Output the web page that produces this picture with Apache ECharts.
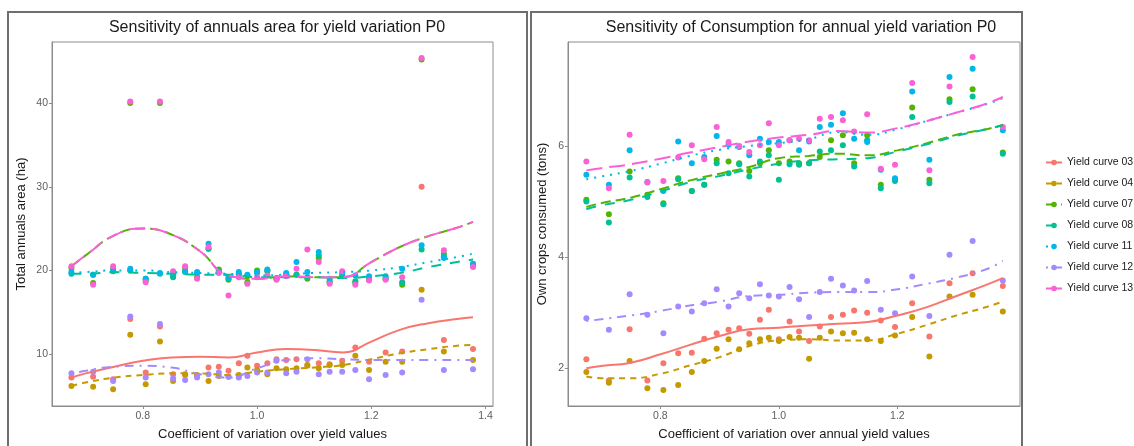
<!DOCTYPE html>
<html>
<head>
<meta charset="utf-8">
<script src="https://cdn.jsdelivr.net/npm/echarts@6/dist/echarts.min.js"></script>
<style>
html,body{margin:0;padding:0;background:#fff;}
#chart{width:1134px;height:446px;}
</style>
</head>
<body>
<div id="chart"></div>
<script>
// ---------- data ----------
const names = ['Yield curve 03','Yield curve 04','Yield curve 07','Yield curve 08','Yield curve 11','Yield curve 12','Yield curve 13'];
const colors = ['#F8766D','#C49A00','#53B400','#00C094','#00B6EB','#A58AFF','#FB61D7'];

// coefficient of variation (x positions of the simulations)
const cvX = [0.675,0.713,0.748,0.778,0.805,0.830,0.853,0.874,0.895,0.915,0.933,0.950,0.968,0.983,1.000,1.018,1.034,1.051,1.069,1.088,1.108,1.127,1.149,1.172,1.196,1.225,1.254,1.288,1.327,1.378];
// x positions at which the smoothed curves were read
const fitX = [0.675,0.70,0.75,0.80,0.85,0.90,0.95,1.00,1.05,1.10,1.15,1.20,1.25,1.30,1.35,1.378];

// left panel: total annuals area (ha)
const area03 = [7.2,7.3,7.0,14.2,7.8,13.3,7.6,7.5,7.4,8.4,8.5,8.0,8.9,9.8,8.6,8.9,9.4,9.3,9.4,8.6,8.9,8.8,9.2,10.8,9.1,10.2,10.3,30.0,11.7,10.6];
const area04 = [6.2,6.1,5.8,12.3,6.4,11.5,6.8,7.6,7.5,6.8,7.4,7.3,7.5,8.4,8.1,7.6,8.3,8.2,8.3,8.7,8.3,8.7,8.7,9.8,8.1,9.1,9.1,17.7,10.3,9.3];
const area07 = [20.3,18.5,20.2,40.0,18.8,40.0,19.3,20.3,19.2,22.6,20.1,18.9,19.5,18.6,20.0,19.9,19.1,19.5,19.5,19.0,21.5,18.6,19.3,18.5,19.0,19.0,18.3,45.2,22.0,20.6];
const area08 = [19.6,19.5,19.9,20.0,19.0,19.6,19.2,19.8,19.7,22.6,19.9,19.0,19.6,19.4,19.7,20.0,19.0,19.5,19.5,19.2,21.8,18.7,19.4,18.7,18.9,19.0,18.6,22.5,21.7,20.7];
const area11 = [19.8,19.5,20.0,20.2,19.0,19.7,19.6,19.9,19.8,23.2,19.8,19.2,19.8,19.5,19.8,20.1,19.0,19.7,21.0,19.8,22.2,19.0,19.7,19.4,19.3,19.3,20.2,23.0,21.5,20.8];
const area12 = [7.7,7.9,6.8,14.5,7.2,13.6,7.1,6.9,7.2,7.6,7.8,7.3,7.2,7.4,7.8,7.8,9.2,7.7,7.9,9.4,7.6,7.9,7.9,8.1,7.0,7.5,7.8,16.5,8.1,8.2];
const area13 = [20.5,18.3,20.5,40.2,18.6,40.2,19.9,20.5,19.0,22.8,19.7,17.0,19.2,18.4,19.2,19.4,18.9,19.3,20.2,22.5,21.0,18.4,19.9,18.3,18.8,18.9,19.2,45.4,22.4,20.4];

const areaFit03 = [7.2,7.7,8.5,9.2,9.6,9.7,9.6,10.2,10.6,10.5,10.2,11.5,12.9,13.7,14.2,14.4];
const areaFit04 = [6.2,6.6,7.2,7.5,7.7,7.7,7.5,7.9,8.2,8.4,8.7,9.4,10.1,10.6,11.0,11.1];
const areaFit07 = [20.5,21.8,24.2,25.0,24.3,22.3,19.4,19.0,19.3,19.2,19.2,21.0,22.8,24.1,25.1,25.8];
const areaFit08 = [19.6,19.6,19.8,19.7,19.6,19.5,19.5,19.2,19.2,19.2,19.1,19.3,19.7,20.4,21.0,21.3];
const areaFit11 = [19.7,19.8,20.0,20.0,19.8,19.7,19.6,19.4,19.5,19.7,19.8,20.0,20.4,21.0,21.6,22.0];
const areaFit12 = [7.6,8.0,8.5,8.6,8.4,7.6,7.2,8.3,9.3,9.5,9.4,9.3,9.3,9.3,9.3,9.3];
const areaFit13 = [20.5,21.8,24.2,25.0,24.3,22.3,19.4,19.0,19.3,19.2,19.2,21.0,22.8,24.1,25.1,25.8];

// right panel: own crops consumed (tons)
const cons03 = [2.16,1.78,2.70,1.78,2.09,2.27,2.28,2.53,2.63,2.69,2.72,2.62,2.87,3.05,2.52,2.84,2.66,2.49,2.75,2.92,2.96,3.04,3.00,2.86,2.74,3.17,2.57,3.53,3.71,3.48];
const cons04 = [1.93,1.74,2.13,1.64,1.61,1.70,1.93,2.13,2.35,2.52,2.34,2.45,2.52,2.55,2.49,2.56,2.55,2.17,2.55,2.66,2.63,2.64,2.52,2.49,2.59,2.92,2.21,3.29,3.32,3.02];
const cons07 = [5.03,4.77,5.54,5.12,4.97,5.42,5.19,5.30,5.75,5.72,5.69,5.55,5.69,5.92,5.69,5.72,5.69,5.69,5.80,6.10,6.19,5.69,6.19,5.30,5.40,6.69,5.39,6.84,7.02,5.88];
const cons08 = [5.00,4.62,5.43,5.08,4.95,5.40,5.19,5.30,5.69,5.51,5.67,5.45,5.72,5.83,5.39,5.67,5.66,5.69,5.90,5.92,6.01,5.63,6.10,5.24,5.37,6.52,5.33,6.79,6.89,5.86];
const cons11 = [5.48,5.30,5.92,5.35,5.19,6.08,5.69,5.80,6.18,6.02,5.98,5.83,6.13,6.07,6.07,6.10,5.92,6.08,6.34,6.38,6.59,6.13,6.07,5.57,5.42,6.98,5.75,7.24,7.39,6.28];
const cons12 = [2.90,2.69,3.33,2.96,2.63,3.11,3.02,3.17,3.42,3.11,3.35,3.26,3.51,3.31,3.29,3.46,3.24,2.92,3.37,3.61,3.49,3.40,3.57,3.05,2.99,3.65,2.94,4.04,4.29,3.58];
const cons13 = [5.72,5.24,6.20,5.34,5.37,5.79,6.01,5.76,6.34,6.07,6.00,5.89,6.01,6.41,6.01,6.10,6.13,6.10,6.49,6.52,6.46,6.26,6.57,5.59,5.66,7.13,5.56,7.07,7.60,6.34];

const consFit03 = [2.0,2.04,2.1,2.25,2.42,2.58,2.7,2.73,2.77,2.8,2.83,2.95,3.1,3.3,3.5,3.62];
const consFit04 = [1.85,1.82,1.82,1.9,2.05,2.2,2.4,2.5,2.52,2.5,2.5,2.62,2.78,2.95,3.1,3.2];
const consFit07 = [4.9,4.97,5.07,5.22,5.38,5.5,5.62,5.78,5.82,5.86,5.83,5.92,6.05,6.2,6.3,6.38];
const consFit08 = [4.86,4.93,5.03,5.18,5.35,5.46,5.58,5.68,5.74,5.76,5.78,5.9,6.03,6.18,6.3,6.37];
const consFit11 = [5.4,5.45,5.55,5.68,5.82,5.93,6.0,6.05,6.12,6.25,6.2,6.3,6.45,6.6,6.75,6.86];
const consFit12 = [2.85,2.88,2.95,3.03,3.13,3.2,3.3,3.32,3.36,3.37,3.37,3.42,3.52,3.63,3.78,3.93];
const consFit13 = [5.56,5.6,5.67,5.77,5.88,5.98,6.08,6.15,6.2,6.27,6.24,6.32,6.45,6.6,6.76,6.88];

// tick labels
const xTicks = [0.8,1.0,1.2,1.4];
const xTicksRight = [0.8,1.0,1.2];
const yTicksArea = [10,20,30,40];
const yTicksCons = [2,4,6];

// ---------- styling ----------
const dashes = ['solid',[6,5],[10,5],[10,9],[2,6],[2,6,9,6],[16,7]];
const areaPts = [area03,area04,area07,area08,area11,area12,area13];
const areaFits = [areaFit03,areaFit04,areaFit07,areaFit08,areaFit11,areaFit12,areaFit13];
const consPts = [cons03,cons04,cons07,cons08,cons11,cons12,cons13];
const consFits = [consFit03,consFit04,consFit07,consFit08,consFit11,consFit12,consFit13];

const FONT = '"Liberation Sans", Arial, sans-serif';
const axisGray = '#8c8c8c';

function pairs(xs, ys){ return xs.map((x,i)=>[x, ys[i]]); }

const series = [];
function addPanel(idx, pts, fits){
  pts.forEach((ys,i)=>{
    series.push({type:'scatter', name:'pts '+names[i]+' '+idx, xAxisIndex:idx, yAxisIndex:idx,
      data:pairs(cvX, ys), symbolSize:6, itemStyle:{color:colors[i], opacity:1}, silent:true, z:2});
  });
  fits.forEach((ys,i)=>{
    series.push({type:'line', name:names[i], xAxisIndex:idx, yAxisIndex:idx,
      data:pairs(fitX, ys), smooth:0.5, symbol:'circle', symbolSize:6, showSymbol:false,
      lineStyle:{color:colors[i], width:2, type:dashes[i]}, itemStyle:{color:colors[i]}, silent:true, z:3});
  });
}
addPanel(0, areaPts, areaFits);
addPanel(1, consPts, consFits);

function xAxisCfg(idx, name, min, max, ticks){
  return {type:'value', gridIndex:idx, min:min, max:max, name:name, nameLocation:'middle', nameGap:22,
    nameTextStyle:{fontFamily:FONT, fontSize:13, color:'#1a1a1a'},
    axisLine:{show:true, onZero:false, lineStyle:{color:axisGray, width:1}},
    axisTick:{show:true, length:3, customValues:ticks, lineStyle:{color:axisGray}},
    axisLabel:{customValues:ticks, margin:5, fontFamily:FONT, fontSize:10.5, color:'#5e5e5e',
      formatter:v=>v.toFixed(1)},
    splitLine:{show:false}};
}
function yAxisCfg(idx, name, min, max, ticks, gap){
  return {type:'value', gridIndex:idx, min:min, max:max, name:name, nameLocation:'middle', nameGap:gap,
    nameTextStyle:{fontFamily:FONT, fontSize:13, color:'#1a1a1a'},
    axisLine:{show:true, onZero:false, lineStyle:{color:axisGray, width:1}},
    axisTick:{show:true, length:3, customValues:ticks, lineStyle:{color:axisGray}},
    axisLabel:{customValues:ticks, margin:4, fontFamily:FONT, fontSize:10.5, color:'#5e5e5e'},
    splitLine:{show:false}};
}

const option = {
  animation:false,
  backgroundColor:'#ffffff',
  title:[
    {text:'Sensitivity of annuals area for yield variation P0', left:272, top:15, textAlign:'center',
     textStyle:{fontFamily:FONT, fontSize:16, fontWeight:'normal', color:'#1a1a1a'}},
    {text:'Sensitivity of Consumption for annual yield variation P0', left:796, top:15, textAlign:'center',
     textStyle:{fontFamily:FONT, fontSize:16, fontWeight:'normal', color:'#1a1a1a'}}
  ],
  grid:[
    {left:52, top:42, width:441, height:366, show:true, borderColor:axisGray, borderWidth:1, backgroundColor:'transparent'},
    {left:568, top:42, width:452, height:368, show:true, borderColor:axisGray, borderWidth:1, backgroundColor:'transparent'}
  ],
  xAxis:[
    xAxisCfg(0,'Coefficient of variation over yield values',0.641,1.413,xTicks),
    xAxisCfg(1,'Coefficient of variation over annual yield values',0.644,1.407,xTicksRight)
  ],
  yAxis:[
    yAxisCfg(0,'Total annuals area (ha)',3.8,47.3,yTicksArea,24),
    yAxisCfg(1,'Own crops consumed (tons)',1.32,7.87,yTicksCons,19)
  ],
  legend:{orient:'vertical', left:1045, top:157, padding:0, itemGap:10, itemWidth:16, itemHeight:7,
    data:names, selectedMode:false,
    textStyle:{fontFamily:FONT, fontSize:10.5, color:'#1a1a1a'}},
  graphic:[
    {type:'rect', shape:{x:8, y:12, width:519, height:450}, style:{fill:null, stroke:'#6e6e6e', lineWidth:2}, silent:true},
    {type:'rect', shape:{x:531, y:12, width:491, height:450}, style:{fill:null, stroke:'#6e6e6e', lineWidth:2}, silent:true}
  ],
  series:series
};

const chart = echarts.init(document.getElementById('chart'), null, {renderer:'canvas'});
chart.setOption(option);
</script>
</body>
</html>
